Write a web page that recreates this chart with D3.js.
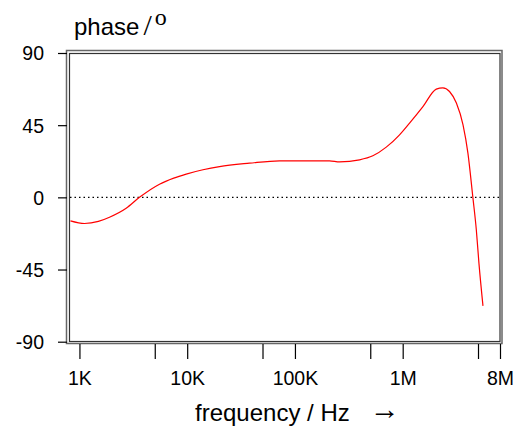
<!DOCTYPE html>
<html><head><meta charset="utf-8">
<script src="https://cdn.jsdelivr.net/npm/d3@7"></script>
<style>body{margin:0;background:#fff}svg{display:block}</style>
</head><body>
<svg id="c" width="513" height="427"></svg>
<script>
const freqs = [825,1113,1500,1900,2714,3606,5534,7500,9790,14000,19950,37870,71940,209400,259500,398000,528800,704000,935000,1158000,1541000,2050000,2360000,2720000,3150000,3630000,4030000,4480000,4820000,5100000,5560000];
const phase = [-14.7,-16.3,-15,-12.4,-6.8,0,8.2,12,14.5,17.2,19.2,21.3,22.8,22.8,22.1,23.4,25.9,31.3,39,46.3,56.6,67.5,68.3,66,58.8,45.2,27.6,0,-20,-41,-67.7];
const xTickVals = [1e3,5e3,1e4,5e4,1e5,5e5,1e6,5e6,8e6];
const xTickLabels = {1000:"1K",10000:"10K",100000:"100K",1000000:"1M",8000000:"8M"};
const yTickVals = [90,45,0,-45,-90];

const svg = d3.select("#c");
const x = d3.scaleLog().domain([800, 8e6]).range([69, 500]);
const y = d3.scaleLinear().domain([-90, 90]).range([341.7, 53]);

// frame (double line)
svg.append("rect").attr("x",66.5).attr("y",50.5).attr("width",435.5).attr("height",293)
  .attr("fill","none").attr("stroke","#666").attr("stroke-width",1.5);
svg.append("rect").attr("x",69.5).attr("y",53.5).attr("width",430.5).attr("height",288)
  .attr("fill","none").attr("stroke","#333").attr("stroke-width",1.2);

// zero line dotted
svg.append("line").attr("x1",70).attr("x2",500).attr("y1",y(0)).attr("y2",y(0))
  .attr("stroke","#000").attr("stroke-width",1.2).attr("stroke-dasharray","1.5,3");

// y axis
const yAxis = d3.axisLeft(y).tickValues(yTickVals).tickSize(9).tickFormat(d => String(d));
const gy = svg.append("g").attr("transform","translate(67,0)").call(yAxis);
gy.select(".domain").remove();
gy.selectAll("line").attr("stroke","#000").attr("stroke-width",1.2);
gy.selectAll("text").attr("font-family","Liberation Sans, Arial, sans-serif").attr("font-size",19.5).attr("fill","#000").attr("text-anchor","end")
  .attr("x",-23).attr("dy","0.35em");

// x axis
const xAxis = d3.axisBottom(x).tickValues(xTickVals).tickSize(15).tickPadding(12)
  .tickFormat(d => xTickLabels[d] || "");
const gx = svg.append("g").attr("transform","translate(0,344)").call(xAxis);
gx.select(".domain").remove();
gx.selectAll("line").attr("stroke","#000").attr("stroke-width",1.2);
gx.selectAll("text").attr("font-family","Liberation Sans, Arial, sans-serif").attr("font-size",19.5).attr("fill","#000");

// curve
svg.append("path").datum(freqs.map((f,i)=>[f,phase[i]]))
  .attr("fill","none").attr("stroke","#ff0000").attr("stroke-width",1.2)
  .attr("d", d3.line().curve(d3.curveMonotoneX).x(d=>x(d[0])).y(d=>y(d[1])));

// title
const t = svg.append("text").attr("x",74).attr("y",35).attr("font-family","Liberation Sans, Arial, sans-serif").attr("font-size",24).attr("fill","#000");
t.append("tspan").text("phase");
t.append("tspan").attr("font-family","Liberation Serif, Times New Roman, serif").attr("font-size",30).attr("dx",4).text("/");
t.append("tspan").attr("font-family","Liberation Serif, Times New Roman, serif").attr("font-size",24).attr("dx",3).attr("dy",-10).text("o");

// x label
const xl = svg.append("text").attr("x",195).attr("y",421).attr("font-family","Liberation Sans, Arial, sans-serif").attr("font-size",24).attr("fill","#000");
xl.append("tspan").text("frequency / Hz");
xl.append("tspan").attr("font-family","Liberation Serif, Times New Roman, serif").attr("dx",20).attr("dy",-2).attr("font-size",30).text("→");
</script>
</body></html>
